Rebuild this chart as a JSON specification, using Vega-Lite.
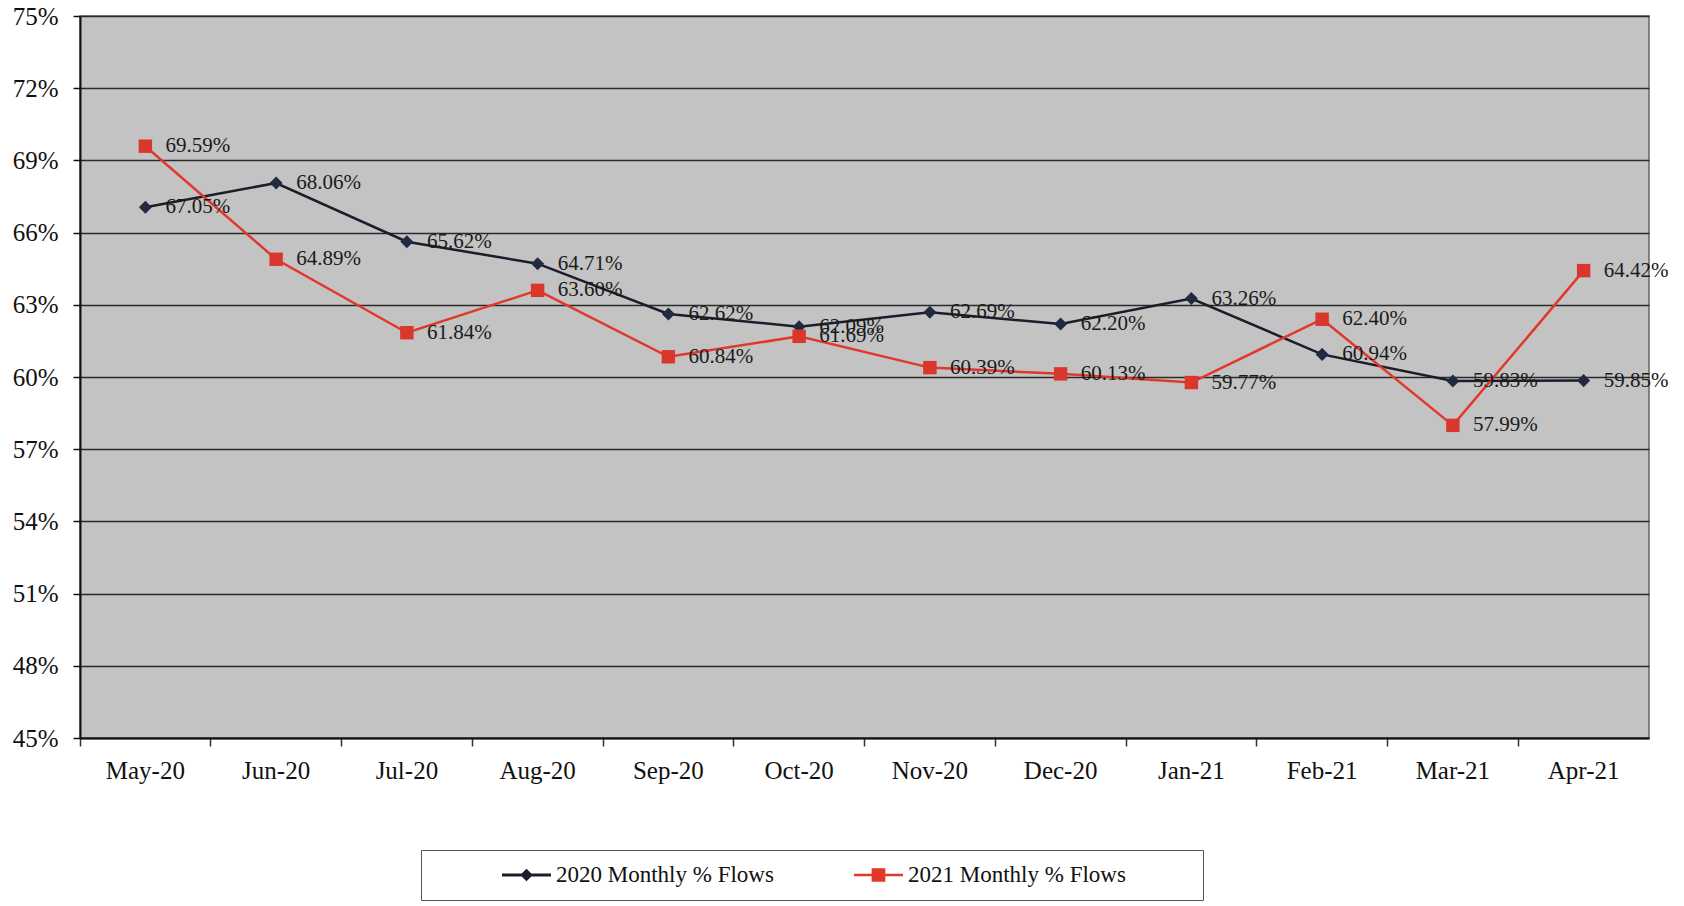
{
  "$schema": "https://vega.github.io/schema/vega-lite/v6.json",
  "width": 1569,
  "height": 722,
  "autosize": "none",
  "padding": {"left": 80, "top": 16, "right": 35, "bottom": 168},
  "background": "white",
  "config": {
    "font": "Liberation Serif",
    "view": {"fill": "#c3c3c3", "stroke": "#666", "strokeWidth": 1.5}
  },
  "data": {
    "values": [
      {"month": "May-20", "series": "2020 Monthly % Flows", "value": 0.6705},
      {"month": "Jun-20", "series": "2020 Monthly % Flows", "value": 0.6806},
      {"month": "Jul-20", "series": "2020 Monthly % Flows", "value": 0.6562},
      {"month": "Aug-20", "series": "2020 Monthly % Flows", "value": 0.6471},
      {"month": "Sep-20", "series": "2020 Monthly % Flows", "value": 0.6262},
      {"month": "Oct-20", "series": "2020 Monthly % Flows", "value": 0.6209},
      {"month": "Nov-20", "series": "2020 Monthly % Flows", "value": 0.6269},
      {"month": "Dec-20", "series": "2020 Monthly % Flows", "value": 0.6220},
      {"month": "Jan-21", "series": "2020 Monthly % Flows", "value": 0.6326},
      {"month": "Feb-21", "series": "2020 Monthly % Flows", "value": 0.6094},
      {"month": "Mar-21", "series": "2020 Monthly % Flows", "value": 0.5983},
      {"month": "Apr-21", "series": "2020 Monthly % Flows", "value": 0.5985},
      {"month": "May-20", "series": "2021 Monthly % Flows", "value": 0.6959},
      {"month": "Jun-20", "series": "2021 Monthly % Flows", "value": 0.6489},
      {"month": "Jul-20", "series": "2021 Monthly % Flows", "value": 0.6184},
      {"month": "Aug-20", "series": "2021 Monthly % Flows", "value": 0.6360},
      {"month": "Sep-20", "series": "2021 Monthly % Flows", "value": 0.6084},
      {"month": "Oct-20", "series": "2021 Monthly % Flows", "value": 0.6169},
      {"month": "Nov-20", "series": "2021 Monthly % Flows", "value": 0.6039},
      {"month": "Dec-20", "series": "2021 Monthly % Flows", "value": 0.6013},
      {"month": "Jan-21", "series": "2021 Monthly % Flows", "value": 0.5977},
      {"month": "Feb-21", "series": "2021 Monthly % Flows", "value": 0.6240},
      {"month": "Mar-21", "series": "2021 Monthly % Flows", "value": 0.5799},
      {"month": "Apr-21", "series": "2021 Monthly % Flows", "value": 0.6442}
    ]
  },
  "encoding": {
    "x": {
      "field": "month",
      "type": "ordinal",
      "sort": ["May-20", "Jun-20", "Jul-20", "Aug-20", "Sep-20", "Oct-20", "Nov-20", "Dec-20", "Jan-21", "Feb-21", "Mar-21", "Apr-21"],
      "scale": {"type": "band", "paddingInner": 0, "paddingOuter": 0},
      "axis": {
        "title": null,
        "labelAngle": 0,
        "bandPosition": 0,
        "labelFontSize": 25,
        "labelColor": "#111",
        "labelPadding": 12,
        "tickSize": 8,
        "tickColor": "#333",
        "tickWidth": 1.5,
        "domainColor": "#111",
        "domainWidth": 2,
        "grid": false
      }
    },
    "y": {
      "field": "value",
      "type": "quantitative",
      "scale": {"domain": [0.45, 0.75], "nice": false, "zero": false},
      "axis": {
        "title": null,
        "values": [0.45, 0.48, 0.51, 0.54, 0.57, 0.6, 0.63, 0.66, 0.69, 0.72, 0.75],
        "format": ".0%",
        "labelFontSize": 25,
        "labelColor": "#111",
        "labelPadding": 15,
        "tickSize": 7,
        "tickColor": "#111",
        "tickWidth": 1.5,
        "domainColor": "#111",
        "domainWidth": 2,
        "grid": true,
        "gridColor": "#2a2a2a",
        "gridWidth": 1.6,
        "gridOpacity": 1
      }
    }
  },
  "layer": [
    {
      "mark": {"type": "line", "strokeWidth": 2.5},
      "encoding": {
        "color": {
          "field": "series",
          "type": "nominal",
          "scale": {"domain": ["2020 Monthly % Flows", "2021 Monthly % Flows"], "range": ["#1c1c2a", "#e3372c"]},
          "legend": {
            "title": "\u00a0",
            "titleOrient": "right",
            "titlePadding": 64,
            "titleFontSize": 10,
            "orient": "none",
            "direction": "horizontal",
            "legendX": 341,
            "legendY": 834,
            "fillColor": "white",
            "strokeColor": "#555",
            "padding": 13,
            "clipHeight": 24,
            "symbolSize": 2400,
            "symbolType": "M-1,-0.06H1V0.06H-1Z",
            "symbolStrokeWidth": 0,
            "symbolOffset": 68,
            "labelOffset": 5,
            "columnPadding": 12,
            "labelFontSize": 23,
            "labelColor": "#111",
            "labelLimit": 500,
            "encode": {
              "symbols": {
                "update": {
                  "shape": {"signal": "datum.value === '2020 Monthly % Flows' ? 'M-1,-0.06H1V0.06H-1Z M0,-0.26L0.26,0L0,0.26L-0.26,0Z' : 'M-1,-0.05H1V0.05H-1Z M-0.28,-0.28H0.28V0.28H-0.28Z'"},
                  "fill": {"signal": "datum.value === '2020 Monthly % Flows' ? '#1c1c2a' : '#e3372c'"},
                  "fillOpacity": {"value": 1},
                  "stroke": {"value": "transparent"},
                  "strokeWidth": {"value": 0},
                  "size": {"value": 2400},
                  "opacity": {"value": 1}
                }
              }
            }
          }
        }
      }
    },
    {
      "transform": [{"filter": "datum.series === '2020 Monthly % Flows'"}],
      "mark": {"type": "point", "filled": true, "opacity": 1, "shape": "diamond", "size": 170, "color": "#222a40"}
    },
    {
      "transform": [{"filter": "datum.series === '2021 Monthly % Flows'"}],
      "mark": {"type": "point", "filled": true, "opacity": 1, "shape": "square", "size": 180, "color": "#d9372b"}
    },
    {
      "mark": {"type": "text", "align": "left", "baseline": "middle", "dx": 20, "fontSize": 21, "font": "Liberation Serif", "color": "#1a1a1a"},
      "encoding": {
        "text": {"field": "value", "type": "quantitative", "format": ".2%"}
      }
    }
  ]
}
